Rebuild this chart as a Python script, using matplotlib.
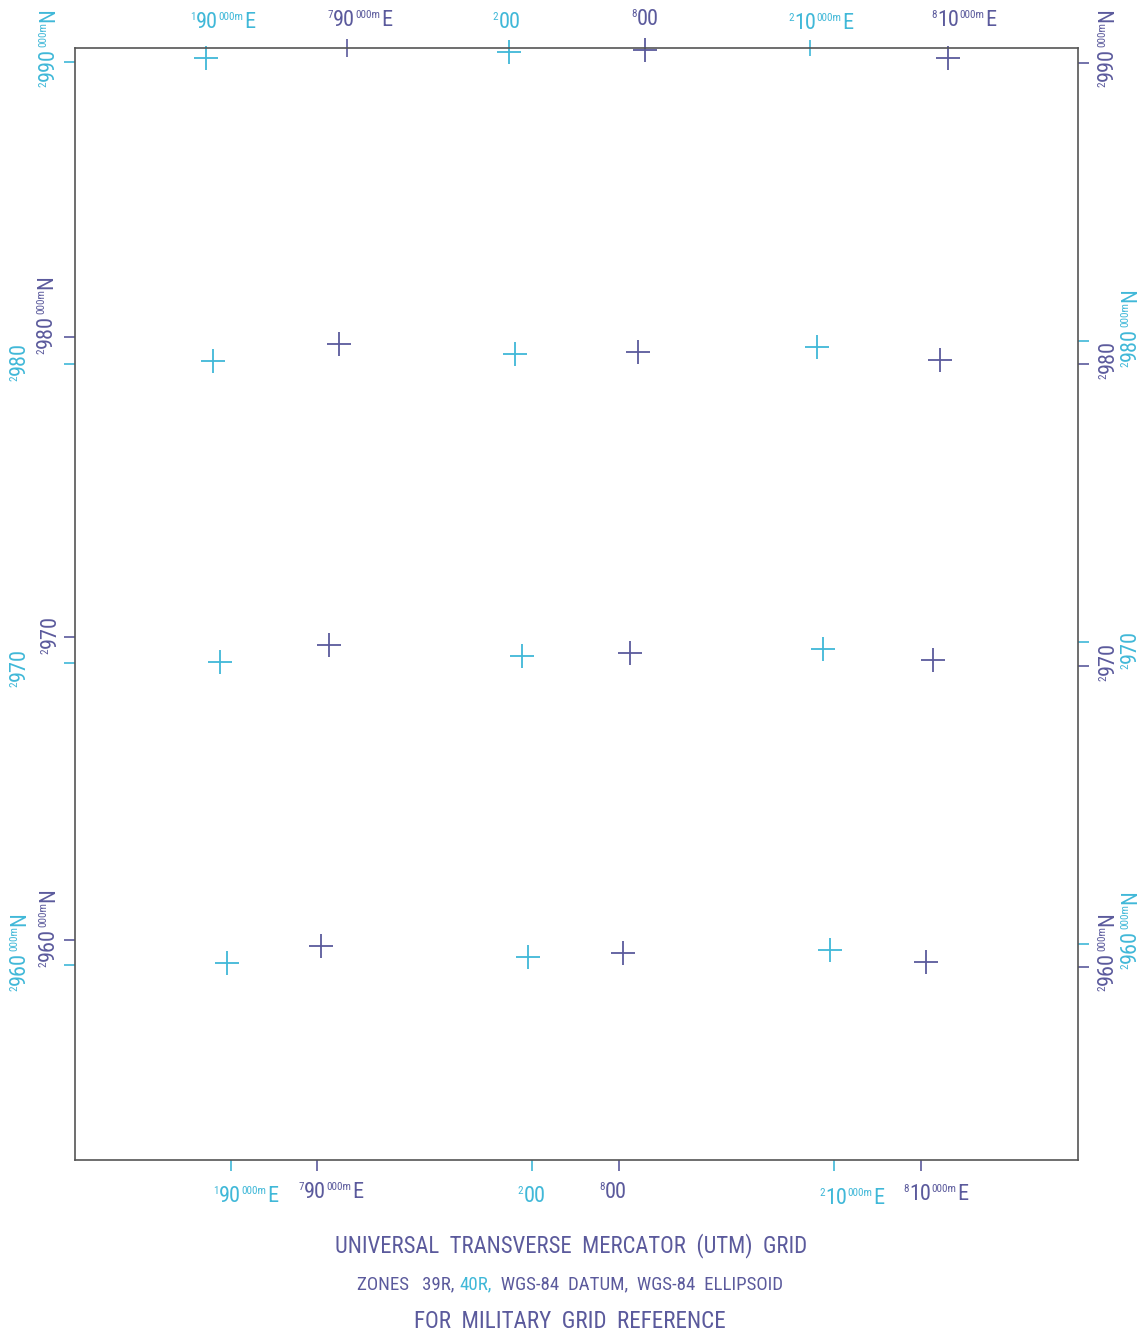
import matplotlib
matplotlib.use("Agg")
import matplotlib.pyplot as plt
from matplotlib import font_manager
from matplotlib.font_manager import FontProperties
from matplotlib.markers import TICKLEFT, TICKRIGHT, TICKDOWN

# ---------------- data (map frame coordinates in km, read from the sheet) -------------
# Zone 39R grid intersections (purple)
z39_cross_e = [18.94, 29.00, 8.77, 18.70, 28.74, 8.44, 18.44, 28.50, 8.17, 18.21, 28.27]
z39_cross_n = [36.88, 36.61, 27.11, 26.84, 26.58, 17.11, 16.84, 16.61, 7.11, 6.88, 6.58]
# Zone 40R grid intersections (cyan)
z40_cross_e = [4.35, 14.42, 4.58, 14.62, 24.65, 4.82, 14.85, 24.85, 5.05, 15.05, 25.08]
z40_cross_n = [36.61, 36.81, 26.54, 26.78, 27.01, 16.54, 16.74, 16.98, 6.54, 6.74, 6.98]

# grid ticks on the neatline
z39_top_ticks = [9.04]
z40_top_ticks = [24.42]
z39_bottom_ticks = [8.04, 18.07, 28.11]
z40_bottom_ticks = [5.18, 15.18, 25.22]
z39_left_ticks = [27.34, 17.38, 7.31]
z40_left_ticks = [36.48, 26.45, 16.51, 6.48]
z39_right_ticks = [36.45, 26.45, 16.41, 6.41]
z40_right_ticks = [27.21, 17.21, 7.18]

# grid labels: (prefix, main digits, small part, suffix)
easting_labels_39 = [("7", "90", "000m", "E"), ("8", "00", "", ""), ("8", "10", "000m", "E")]
easting_labels_40 = [("1", "90", "000m", "E"), ("2", "00", "", ""), ("2", "10", "000m", "E")]
northing_values = ["990", "980", "970", "960"]

title_1 = "UNIVERSAL  TRANSVERSE  MERCATOR  (UTM)  GRID"
title_2a = "ZONES   39R, "
title_2b = "40R,"
title_2c = "  WGS-84  DATUM,  WGS-84  ELLIPSOID"
title_3 = "FOR  MILITARY  GRID  REFERENCE"

# ---------------- style ----------------
W, H = 1143, 1338
PURPLE = "#5b5a9c"
CYAN = "#40b8d8"
FRAME = "#555555"
KM = 30.1  # pixels per km on the sheet

ttf = font_manager.fontManager.ttflist
names = {f.name for f in ttf}

# look for a condensed face
TFONT, TSTRETCH = "Liberation Sans", "normal"
for pref in ["Liberation Sans Narrow", "Roboto Condensed", "Open Sans Condensed",
             "Noto Sans Condensed", "DejaVu Sans Condensed"]:
    if pref in names:
        TFONT = pref
        break
else:
    for fam in ["Liberation Sans", "Roboto", "Noto Sans", "Open Sans", "DejaVu Sans"]:
        if any(f.name == fam and f.stretch in ("condensed", "semi-condensed") for f in ttf):
            TFONT, TSTRETCH = fam, "condensed"
            break

plt.rcParams["font.family"] = [TFONT, "DejaVu Sans"]
plt.rcParams["font.stretch"] = TSTRETCH

fig = plt.figure(figsize=(W / 100, H / 100), dpi=100)
L, R, T, B = 75, 1078, 48, 1160
ax = fig.add_axes([L / W, 1 - B / H, (R - L) / W, (B - T) / H])
ax.set_xlim(0, (R - L) / KM)
ax.set_ylim(0, (B - T) / KM)
ax.set_xticks([])
ax.set_yticks([])
for s in ax.spines.values():
    s.set_color(FRAME)
    s.set_linewidth(1.2)
xmax = (R - L) / KM
ymax = (B - T) / KM

cross_kw = dict(ls="none", marker="+", ms=17, mew=1.3, clip_on=False)
ax.plot(z39_cross_e, z39_cross_n, color=PURPLE, **cross_kw)
ax.plot(z40_cross_e, z40_cross_n, color=CYAN, **cross_kw)

tick_kw = dict(ls="none", mew=1.2, clip_on=False)
ax.plot(z39_top_ticks, [ymax] * len(z39_top_ticks), marker="|", ms=13, color=PURPLE, **tick_kw)
ax.plot(z40_top_ticks, [ymax] * len(z40_top_ticks), marker="|", ms=11, color=CYAN, **tick_kw)
ax.plot(z39_bottom_ticks, [0] * 3, marker=TICKDOWN, ms=8, color=PURPLE, **tick_kw)
ax.plot(z40_bottom_ticks, [0] * 3, marker=TICKDOWN, ms=8, color=CYAN, **tick_kw)
ax.plot([0] * 3, z39_left_ticks, marker=TICKLEFT, ms=8, color=PURPLE, **tick_kw)
ax.plot([0] * 4, z40_left_ticks, marker=TICKLEFT, ms=8, color=CYAN, **tick_kw)
ax.plot([xmax] * 4, z39_right_ticks, marker=TICKRIGHT, ms=8, color=PURPLE, **tick_kw)
ax.plot([xmax] * 3, z40_right_ticks, marker=TICKRIGHT, ms=8, color=CYAN, **tick_kw)

# ---------------- grid labels: big digits with small raised parts ----------------
BIG, SMALL = 16, 8
renderer = fig.canvas.get_renderer()
pbig = FontProperties(family=[TFONT, "DejaVu Sans"], stretch=TSTRETCH, size=BIG)
psmall = FontProperties(family=[TFONT, "DejaVu Sans"], stretch=TSTRETCH, size=SMALL)


def _w(s, p):
    return renderer.get_text_width_height_descent(s, p, ismath=False)[0]


def _cap(p):
    w, h, d = renderer.get_text_width_height_descent("E", p, ismath=False)
    return h - d


CAP_B, CAP_S = _cap(pbig), _cap(psmall)


def compose(cx, cy, parts, color, rot=0):
    pieces = []
    pre, main, small, suf = parts
    pieces.append((pre, True))
    pieces.append((main, False))
    if small:
        pieces.append((small, True))
        pieces.append((suf, False))
    widths = [_w(t, psmall if up else pbig) for t, up in pieces]
    pos = -sum(widths) / 2
    for (t, up), w in zip(pieces, widths):
        rise = (CAP_B - CAP_S) if up else 0
        if rot == 0:
            xd, yd = cx + pos, (H - cy) - CAP_B / 2 + rise
        else:
            xd, yd = cx + CAP_B / 2 - rise, (H - cy) + pos
        fig.text(xd / W, yd / H, t, fontproperties=psmall if up else pbig, color=color,
                 rotation=rot, ha="left", va="baseline", rotation_mode="anchor")
        pos += w + 0.5


for (x, y), p in zip([(222, 20), (506, 20), (820, 21)], easting_labels_40):
    compose(x, y, p, CYAN)
for (x, y), p in zip([(359, 18), (645, 17), (963, 18)], easting_labels_39):
    compose(x, y, p, PURPLE)
for (x, y), p in zip([(245, 1194), (531, 1194), (851, 1196)], easting_labels_40):
    compose(x, y, p, CYAN)
for (x, y), p in zip([(330, 1190), (613, 1190), (935, 1192)], easting_labels_39):
    compose(x, y, p, PURPLE)


def nparts(v, full):
    return ("2", v, "000m", "N") if full else ("2", v, "", "")


compose(46, 48, nparts(northing_values[0], True), CYAN, 90)
compose(44, 315, nparts(northing_values[1], True), PURPLE, 90)
compose(17, 362, nparts(northing_values[1], False), CYAN, 90)
compose(48, 635, nparts(northing_values[2], False), PURPLE, 90)
compose(17, 668, nparts(northing_values[2], False), CYAN, 90)
compose(46, 928, nparts(northing_values[3], True), PURPLE, 90)
compose(17, 952, nparts(northing_values[3], True), CYAN, 90)
compose(1105, 48, nparts(northing_values[0], True), PURPLE, 90)
compose(1128, 328, nparts(northing_values[1], True), CYAN, 90)
compose(1106, 360, nparts(northing_values[1], False), PURPLE, 90)
compose(1128, 650, nparts(northing_values[2], False), CYAN, 90)
compose(1106, 662, nparts(northing_values[2], False), PURPLE, 90)
compose(1128, 930, nparts(northing_values[3], True), CYAN, 90)
compose(1105, 952, nparts(northing_values[3], True), PURPLE, 90)

# ---------------- titles, sized to the widths on the sheet ----------------
tkw = dict(family=[TFONT, "DejaVu Sans"], fontstretch=TSTRETCH, va="center")
t1 = fig.text(571 / W, 1 - 1246 / H, title_1, color=PURPLE, fontsize=10, ha="center", **tkw)
t3 = fig.text(570 / W, 1 - 1321 / H, title_3, color=PURPLE, fontsize=10, ha="center", **tkw)
y2 = 1 - 1284 / H
t_a = fig.text(0, y2, title_2a, color=PURPLE, fontsize=10, ha="left", **tkw)
t_b = fig.text(0, y2, title_2b, color=CYAN, fontsize=10, ha="left", **tkw)
t_c = fig.text(0, y2, title_2c, color=PURPLE, fontsize=10, ha="left", **tkw)

fig.canvas.draw()
r = fig.canvas.get_renderer()
t1.set_fontsize(10 * 473 / t1.get_window_extent(r).width)
t3.set_fontsize(10 * 311 / t3.get_window_extent(r).width)
w2 = sum(t.get_window_extent(r).width for t in (t_a, t_b, t_c))
s2 = 10 * 426 / w2
for t in (t_a, t_b, t_c):
    t.set_fontsize(s2)
fig.canvas.draw()
wa = t_a.get_window_extent(r).width
wb = t_b.get_window_extent(r).width
wc = t_c.get_window_extent(r).width
x0 = 570 - (wa + wb + wc) / 2
t_a.set_x(x0 / W)
t_b.set_x((x0 + wa) / W)
t_c.set_x((x0 + wa + wb) / W)

fig.savefig("out.png", dpi=100, facecolor="white")
